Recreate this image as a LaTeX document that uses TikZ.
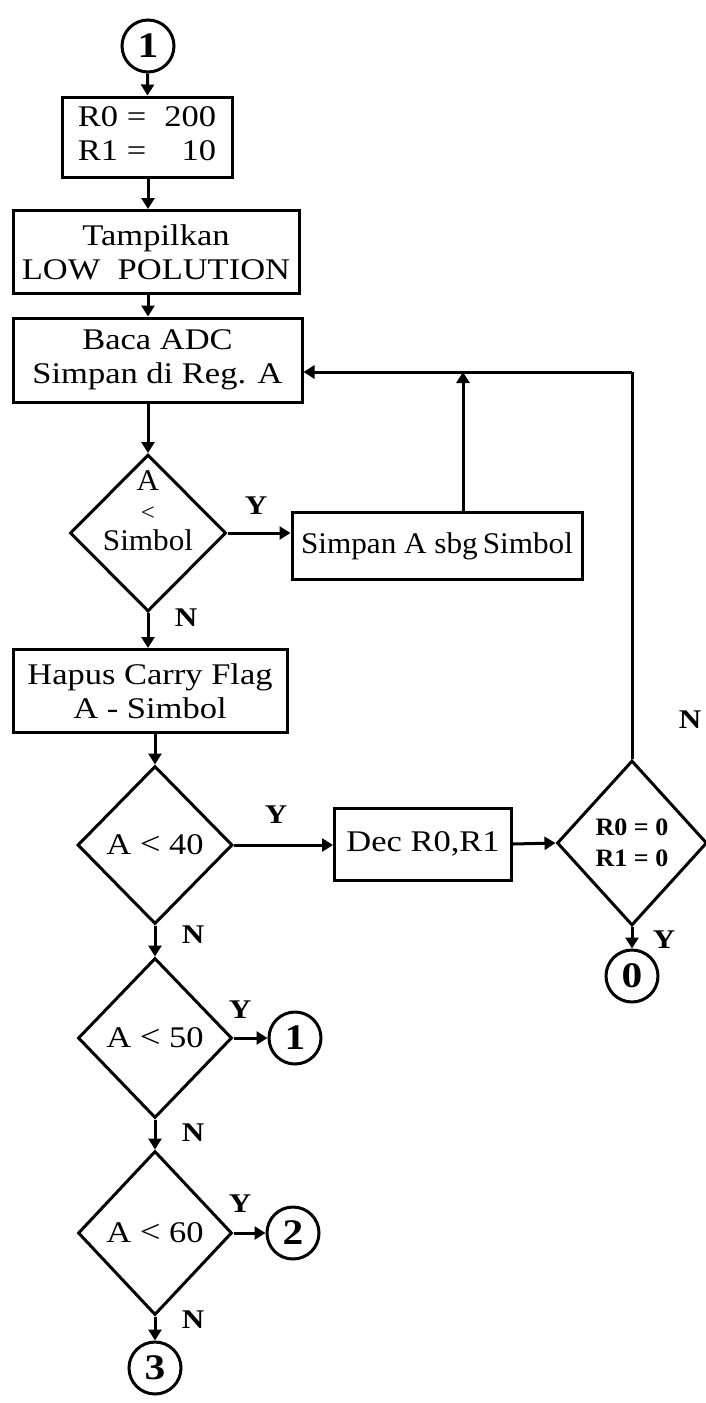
\documentclass[tikz,border=0pt]{standalone}
\usepackage{fontspec}
\setmainfont{Liberation Serif}[FakeStretch=1.15]
\newfontfamily\narrowserif{Liberation Serif}[FakeStretch=1.04]
\usetikzlibrary{shapes.geometric,arrows.meta}
\tikzset{
  proc/.style={draw, line width=3pt, rectangle, inner sep=0pt, align=center,
    font=\fontsize{30}{34}\selectfont},
  cond/.style={draw, line width=3pt, diamond, inner sep=-20pt, align=center,
    font=\fontsize{30}{34}\selectfont},
  conn/.style={draw, circle, line width=3pt, minimum size=52pt, inner sep=0pt,
    font=\bfseries\fontsize{36}{36}\selectfont},
  flow/.style={line width=3pt, -{Triangle[length=11pt,width=13pt]}},
  lbl/.style={font=\bfseries\fontsize{27}{27}\selectfont, inner sep=0pt}
}
\newcommand{\lt}[1][32]{{\fontsize{#1}{#1}\selectfont<}}
\begin{document}
\begin{tikzpicture}[x=1pt,y=-1pt]
  \useasboundingbox (0,0) rectangle (705,1403);
  % main column
  \node[conn] (c1) at (148,46) {1};
  \node[proc, minimum width=170pt, minimum height=80pt] (init) at (147,137)
    {\begin{tabular}{@{}l@{\hspace{18pt}}r@{}}R0 = & 200\\ R1 = & 10\end{tabular}};
  \node[proc, minimum width=286pt, minimum height=83pt] (show) at (156,252)
    {Tampilkan\\LOW\ \ POLUTION};
  \node[proc, minimum width=289pt, minimum height=84pt] (read) at (157.5,360)
    {Baca ADC\\Simpan di Reg. A};
  \node[cond, minimum width=156pt, minimum height=157pt] (cmp) at (148,533) {};
  \node[align=center, inner sep=0pt, anchor=base,
    font=\narrowserif\fontsize{30}{30}\selectfont]
    (cmptext) at (148,550) {A\\\lt[24]\\Simbol};
  \node[proc, minimum width=290pt, minimum height=67pt,
    font=\narrowserif\fontsize{30}{34}\selectfont] (save) at (437,546)
    {Simpan A sbg\,Simbol};
  \node[proc, minimum width=274pt, minimum height=83pt] (clr) at (150,691)
    {Hapus Carry Flag\\A - Simbol};
  \node[cond, minimum width=155pt, minimum height=158pt] (d40) at (155,845)
    {A \lt\ 40};
  \node[proc, minimum width=177pt, minimum height=72pt] (dec) at (423,844)
    {Dec R0,R1};
  \node[cond, minimum width=150pt, minimum height=165pt,
    font=\narrowserif\bfseries\fontsize{25}{31}\selectfont] (zero) at (632,843)
    {R0 = 0\\R1 = 0};
  \node[conn] (c0) at (632,976) {0};
  \node[cond, minimum width=154pt, minimum height=160pt] (d50) at (155,1038)
    {A \lt\ 50};
  \node[conn] (c1b) at (295,1038) {1};
  \node[cond, minimum width=154pt, minimum height=164pt] (d60) at (155,1233)
    {A \lt\ 60};
  \node[conn] (c2) at (293,1233) {2};
  \node[conn] (c3) at (155,1368) {3};
  \coordinate (loop) at (632,372);

  % connectors
  \draw[flow] (c1) -- (init);
  \draw[flow] (init.south -| c1) -- (show.north -| c1);
  \draw[flow] (show.south -| c1) -- (read.north -| c1);
  \draw[flow] (read.south -| cmp) -- (cmp.north);
  \draw[flow] (cmp.east) -- (cmp.east -| save.west);
  \draw[flow] ([xshift=26pt]save.north) -- ([xshift=26pt]save.north |- loop);
  \draw[flow] (cmp.south) -- (cmp.south |- clr.north);
  \draw[flow] (d40.north |- clr.south) -- (d40.north);
  \draw[flow] (d40.east) -- (d40.east -| dec.west);
  \draw[flow] (dec.east) -- (zero.west);
  \draw[line width=3pt] (zero.north) -- (loop);
  \draw[flow] (loop) -- (loop -| read.east);
  \draw[flow] (zero.south) -- (c0);
  \draw[flow] (d40.south) -- (d50.north);
  \draw[flow] (d50.east) -- (c1b);
  \draw[flow] (d50.south) -- (d60.north);
  \draw[flow] (d60.east) -- (c2);
  \draw[flow] (d60.south) -- (c3);

  % branch labels
  \node[lbl] (y1) at (256,506) {Y};
  \node[lbl] (n1) at (186,618) {N};
  \node[lbl] (y2) at (276,815) {Y};
  \node[lbl] (n2) at (193,935) {N};
  \node[lbl] (n3) at (690,720) {N};
  \node[lbl] (y3) at (664,940) {Y};
  \node[lbl] (y4) at (240,1010) {Y};
  \node[lbl] (n4) at (193,1133) {N};
  \node[lbl] (y5) at (240,1204) {Y};
  \node[lbl] (n5) at (193,1320) {N};
\end{tikzpicture}
\end{document}
